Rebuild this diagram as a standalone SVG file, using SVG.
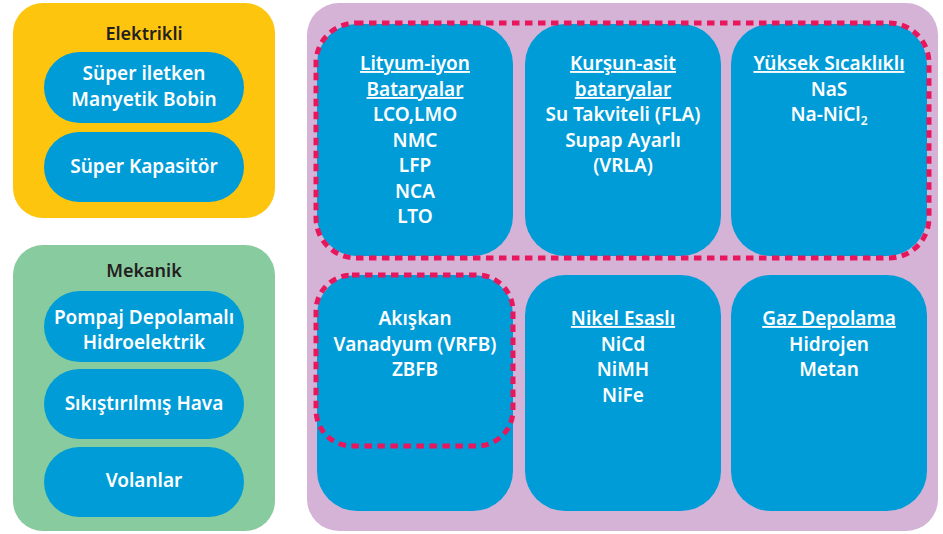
<svg xmlns="http://www.w3.org/2000/svg" width="943" height="534" viewBox="0 0 943 534">
  <style>
    text { font-family: "Noto Sans", "Open Sans", sans-serif; font-weight: 600; font-size: 19px; text-anchor: middle; }
    .title { fill: #231f20; font-size: 18px; }
    .lbl { fill: #ffffff; }
    .u { text-decoration: underline; }
    .blue { fill: #009cd8; }
    .dash { fill: none; stroke: #e8175d; stroke-width: 5; stroke-dasharray: 7.5 5.5; }
  </style>

  <!-- Electrical storage group -->
  <g id="elektrikli">
    <rect x="13" y="3" width="262" height="215" rx="30" fill="#fec50e"/>
    <text class="title" x="144" y="40">Elektrikli</text>
    <g id="smes">
      <rect class="blue" x="44" y="52" width="200" height="71" rx="35.5"/>
      <text class="lbl" x="144" y="80">Süper iletken</text>
      <text class="lbl" x="144" y="106">Manyetik Bobin</text>
    </g>
    <g id="super-kapasitor">
      <rect class="blue" x="44" y="132" width="200" height="70" rx="35"/>
      <text class="lbl" x="144" y="173">Süper Kapasitör</text>
    </g>
  </g>

  <!-- Mechanical storage group -->
  <g id="mekanik">
    <rect x="13" y="245" width="262" height="286" rx="30" fill="#88cb9f"/>
    <text class="title" x="144" y="277">Mekanik</text>
    <g id="pompaj">
      <rect class="blue" x="44" y="291" width="200" height="71" rx="35.5"/>
      <text class="lbl" x="144" y="324">Pompaj Depolamalı</text>
      <text class="lbl" x="144" y="349">Hidroelektrik</text>
    </g>
    <g id="sikistirilmis-hava">
      <rect class="blue" x="44" y="369" width="200" height="70" rx="35"/>
      <text class="lbl" x="144" y="410">Sıkıştırılmış Hava</text>
    </g>
    <g id="volanlar">
      <rect class="blue" x="44" y="447" width="200" height="70" rx="35"/>
      <text class="lbl" x="144" y="487">Volanlar</text>
    </g>
  </g>

  <!-- Electrochemical storage group -->
  <g id="elektrokimyasal">
    <rect x="307" y="3" width="631" height="528" rx="32" fill="#d4b3d6"/>

    <g id="lityum-iyon">
      <rect class="blue" x="317" y="24" width="196" height="232" rx="40"/>
      <text class="lbl u" x="415" y="70">Lityum-iyon</text>
      <text class="lbl u" x="415" y="96">Bataryalar</text>
      <text class="lbl" x="415" y="121">LCO,LMO</text>
      <text class="lbl" x="415" y="147">NMC</text>
      <text class="lbl" x="415" y="172">LFP</text>
      <text class="lbl" x="415" y="198">NCA</text>
      <text class="lbl" x="415" y="223">LTO</text>
    </g>

    <g id="kursun-asit">
      <rect class="blue" x="525" y="24" width="196" height="232" rx="40"/>
      <text class="lbl u" x="623" y="70">Kurşun-asit</text>
      <text class="lbl u" x="623" y="96">bataryalar</text>
      <text class="lbl" x="623" y="121">Su Takviteli (FLA)</text>
      <text class="lbl" x="623" y="147">Supap Ayarlı</text>
      <text class="lbl" x="623" y="172">(VRLA)</text>
    </g>

    <g id="yuksek-sicaklikli">
      <rect class="blue" x="731" y="24" width="196" height="232" rx="40"/>
      <text class="lbl u" x="829" y="70">Yüksek Sıcaklıklı</text>
      <text class="lbl" x="829" y="96">NaS</text>
      <text class="lbl" x="829" y="121">Na-NiCl<tspan font-size="12" dy="4">2</tspan></text>
    </g>

    <g id="akiskan">
      <rect class="blue" x="317" y="275" width="196" height="236" rx="40"/>
      <text class="lbl" x="415" y="325">Akışkan</text>
      <text class="lbl" x="415" y="351">Vanadyum (VRFB)</text>
      <text class="lbl" x="415" y="376">ZBFB</text>
    </g>

    <g id="nikel-esasli">
      <rect class="blue" x="525" y="275" width="196" height="236" rx="40"/>
      <text class="lbl u" x="623" y="325">Nikel Esaslı</text>
      <text class="lbl" x="623" y="351">NiCd</text>
      <text class="lbl" x="623" y="376">NiMH</text>
      <text class="lbl" x="623" y="402">NiFe</text>
    </g>

    <g id="gaz-depolama">
      <rect class="blue" x="731" y="275" width="196" height="236" rx="40"/>
      <text class="lbl u" x="829" y="325">Gaz Depolama</text>
      <text class="lbl" x="829" y="351">Hidrojen</text>
      <text class="lbl" x="829" y="376">Metan</text>
    </g>
  </g>

  <!-- Dashed highlight outlines -->
  <g id="connectors">
    <rect class="dash" x="316" y="23" width="613" height="235" rx="40"/>
    <rect class="dash" x="316" y="275" width="197" height="171" rx="36"/>
  </g>
</svg>
